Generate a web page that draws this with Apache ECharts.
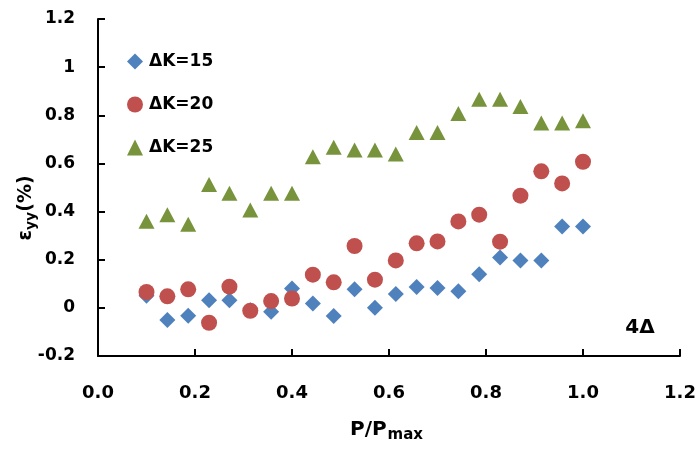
<!DOCTYPE html>
<html><head><meta charset="utf-8">
<script src="https://cdn.jsdelivr.net/npm/echarts@6/dist/echarts.min.js"></script>
<style>html,body{margin:0;padding:0;background:#fff}#c{width:700px;height:461px}</style>
</head><body><div id="c"></div>
<script>
const xValues = [0.1, 0.143, 0.186, 0.229, 0.271, 0.314, 0.357, 0.4, 0.443, 0.486, 0.529, 0.571, 0.614, 0.657, 0.7, 0.743, 0.786, 0.829, 0.871, 0.914, 0.957, 1.0];
const dk15 = [0.05, -0.05, -0.033, 0.032, 0.032, -0.01, -0.016, 0.08, 0.018, -0.034, 0.077, 0.0, 0.058, 0.087, 0.083, 0.069, 0.14, 0.209, 0.197, 0.197, 0.338, 0.338];
const dk20 = [0.066, 0.048, 0.077, -0.062, 0.088, -0.012, 0.028, 0.039, 0.138, 0.106, 0.257, 0.117, 0.197, 0.268, 0.276, 0.359, 0.387, 0.275, 0.466, 0.567, 0.517, 0.607];
const dk25 = [0.36, 0.387, 0.347, 0.512, 0.476, 0.407, 0.476, 0.476, 0.628, 0.667, 0.656, 0.656, 0.639, 0.729, 0.729, 0.807, 0.867, 0.867, 0.836, 0.768, 0.768, 0.777];
const seriesNames = ['ΔK=15', 'ΔK=20', 'ΔK=25'];
const yTicks = {min: -0.2, max: 1.2, interval: 0.2};
const xTicks = {min: 0, max: 1.2, interval: 0.2};

const FONT = 'DejaVu Sans';
const pair = (ys) => xValues.map((x, i) => [x, ys[i]]);
const chart = echarts.init(document.getElementById('c'), null, {renderer: 'canvas'});
chart.setOption({
  animation: false,
  backgroundColor: '#fff',
  grid: {left: 98, right: 20, top: 19, bottom: 105},
  legend: {
    orient: 'vertical', left: 127, top: 53, padding: 0, itemGap: 26,
    itemWidth: 16, itemHeight: 16, itemStyle: {borderWidth: 0},
    textStyle: {fontFamily: FONT, fontWeight: 'bold', fontSize: 17, color: '#000', lineHeight: 16, padding: [0, 0, 0, 1]},
    data: seriesNames
  },
  xAxis: {
    type: 'value', min: xTicks.min, max: xTicks.max, interval: xTicks.interval,
    axisLine: {show: true, onZero: false, lineStyle: {color: '#000', width: 2}},
    axisTick: {show: true, inside: true, length: 7, lineStyle: {color: '#000', width: 2}},
    splitLine: {show: false},
    axisLabel: {margin: 28, fontFamily: FONT, fontWeight: 'bold', fontSize: 18, color: '#000', formatter: v => v.toFixed(1)}
  },
  yAxis: {
    type: 'value', min: yTicks.min, max: yTicks.max, interval: yTicks.interval,
    axisLine: {show: true, onZero: false, lineStyle: {color: '#000', width: 2}},
    axisTick: {show: true, inside: true, length: 7, lineStyle: {color: '#000', width: 2}},
    splitLine: {show: false},
    axisLabel: {margin: 23, fontFamily: FONT, fontWeight: 'bold', fontSize: 17, color: '#000', formatter: v => String(Math.round(v * 10) / 10)}
  },
  series: [
    {name: seriesNames[0], type: 'scatter', symbol: 'diamond', symbolSize: [16, 16], itemStyle: {color: '#4F81BD', opacity: 1}, data: pair(dk15)},
    {name: seriesNames[1], type: 'scatter', symbol: 'circle', symbolSize: 16, itemStyle: {color: '#C0504D', opacity: 1}, data: pair(dk20)},
    {name: seriesNames[2], type: 'scatter', symbol: 'triangle', symbolSize: [16, 15], itemStyle: {color: '#77933C', opacity: 1}, data: pair(dk25)}
  ],
  graphic: [
    {type: 'text', x: 350, y: 430, style: {
      text: '{m|P/P}{s|max}', align: 'left', verticalAlign: 'middle',
      rich: {m: {fontFamily: FONT, fontWeight: 'bold', fontSize: 20, fill: '#000'},
             s: {fontFamily: FONT, fontWeight: 'bold', fontSize: 15, fill: '#000', padding: [11, 0, 0, 1]}}
    }},
    {type: 'text', x: 26, y: 208, rotation: Math.PI / 2, style: {
      text: '{m|ε}{s|yy}{m|(%)}', align: 'center', verticalAlign: 'middle',
      rich: {m: {fontFamily: FONT, fontWeight: 'bold', fontSize: 19, fill: '#000'},
             s: {fontFamily: FONT, fontWeight: 'bold', fontSize: 14, fill: '#000', padding: [10, 0, 0, 0]}}
    }},
    {type: 'text', x: 640, y: 328, style: {text: '4Δ', align: 'center', verticalAlign: 'middle', fontFamily: FONT, fontWeight: 'bold', fontSize: 20, fill: '#000'}}
  ]
});
</script></body></html>
